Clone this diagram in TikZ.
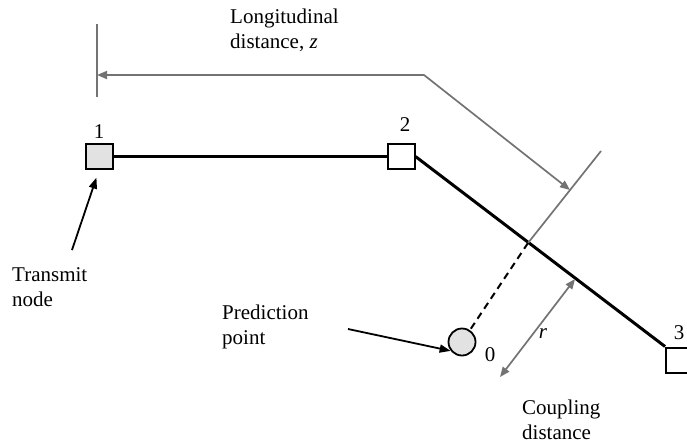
\documentclass[tikz,border=0pt]{standalone}
\usepackage{fontspec}
\setmainfont{Liberation Serif}
\usetikzlibrary{arrows.meta}
\definecolor{dimgray}{HTML}{737373}
\definecolor{boxfill}{HTML}{E2E2E2}
\begin{document}
\begin{tikzpicture}[x=1pt,y=-1pt,
  every node/.style={font=\fontsize{21}{25}\selectfont},
  sq/.style={draw=black,line width=2pt,minimum width=27pt,minimum height=25pt,inner sep=0pt},
  wire/.style={line width=3pt,black},
  dimline/.style={line width=1.7pt,dimgray},
  btip/.style={-{Triangle[length=11pt,width=8pt]}},
  txt/.style={anchor=north west,inner sep=0pt,align=left},
  lbl/.style={inner sep=0pt}]
\useasboundingbox (0,0) rectangle (687,445);
\clip (0,0) rectangle (687,445);
% nodes
\node[sq,fill=boxfill] (n1) at (99,156.5) {};
\node[sq,fill=white] (n2) at (401,156.5) {};
\node[sq,fill=white] (n3) at (679.5,360) {};
\node[circle,draw=black,line width=1.8pt,fill=boxfill,minimum size=27pt,inner sep=0pt] (p0) at (462,342) {};
% labels
\node[lbl] (l1) at (99,132) {1};
\node[lbl] (l2) at (405,125) {2};
\node[lbl] (l3) at (679,333) {3};
\node[lbl] (l0) at (490,355) {0};
\node[lbl] (lr) at (543,334) {\textit{r}};
% texts
\node[txt] (tlong) at (230,9) {Longitudinal\\distance, \textit{z}};
\node[txt] (ttx) at (12,267) {Transmit\\node};
\node[txt] (tpred) at (222,305) {Prediction\\point};
\node[txt] (tcoup) at (522,400) {Coupling\\distance};
% wires
\draw[wire] (n1.east) -- (n2.west);
\draw[wire] (n2.east) -- (n3.north west);
% geometry coordinates
\coordinate (X) at (528,243);
\coordinate (T) at (601,151);
\coordinate (A) at (570,190);
\coordinate (K) at (424,75);
\coordinate (L) at (97,75);
\coordinate (tick1) at (97,24);
\coordinate (tick2) at (97,97);
\coordinate (B) at (575,279);
\coordinate (C) at (500,377);
\coordinate (ts) at (72,250);
\coordinate (ps) at (348,329);
% gray dimension lines
\draw[dimline] (tick1) -- (tick2);
\draw[dimline] (X) -- (T);
\draw[dimline,{Triangle[length=10pt,width=8pt]}-{Triangle[length=10pt,width=8pt]}] (A) -- (K) -- (L);
\draw[dimline,{Triangle[length=10pt,width=8pt]}-{Triangle[length=10pt,width=8pt]}] (C) -- (B);
% dashed
\draw[black,line width=2pt,dash pattern=on 7pt off 5pt] (X) -- (p0);
% black pointer arrows
\draw[black,line width=1.8pt,btip,shorten >=8pt] (ts) -- (n1.south);
\draw[black,line width=1.8pt,btip] (ps) -- (p0.218);
\end{tikzpicture}
\end{document}
